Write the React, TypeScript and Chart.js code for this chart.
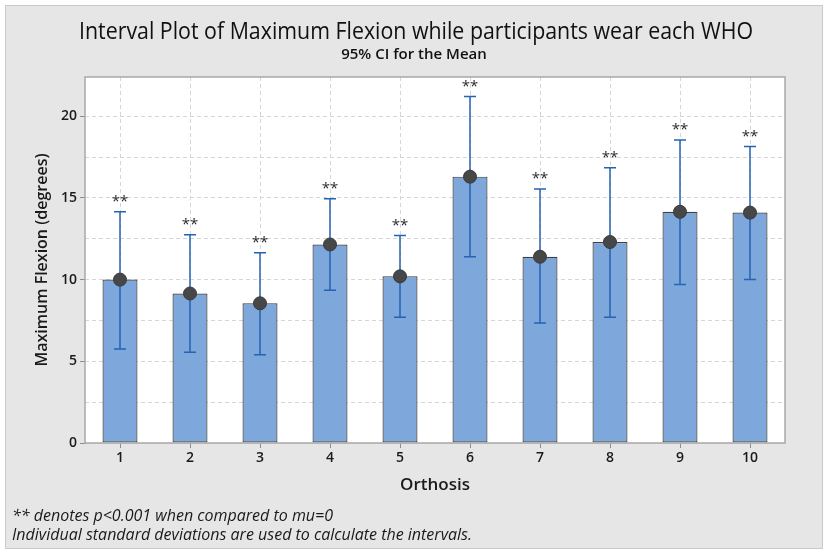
import React, { useEffect, useRef } from 'react';
import { Chart, registerables } from 'chart.js';

Chart.register(...registerables);

// values
const orthoses = ['1', '2', '3', '4', '5', '6', '7', '8', '9', '10'];
const meanFlexion = [10.0, 9.15, 8.55, 12.15, 10.2, 16.3, 11.4, 12.3, 14.15, 14.1];
const ciLower = [5.75, 5.55, 5.4, 9.35, 7.7, 11.4, 7.35, 7.7, 9.7, 10.0];
const ciUpper = [14.15, 12.75, 11.65, 14.95, 12.7, 21.2, 15.55, 16.85, 18.55, 18.15];
const significance = ['**', '**', '**', '**', '**', '**', '**', '**', '**', '**'];
const yTickLabels = [0, 5, 10, 15, 20];
const footnotes = [
   '** denotes p<0.001 when compared to mu=0',
   'Individual standard deviations are used to calculate the intervals.',
];

const FONT = '"Open Sans", "Noto Sans", sans-serif';

const panelPlugin = {
   id: 'panel',
   beforeDraw(chart: any) {
      const { ctx, width, height, chartArea } = chart;
      ctx.save();
      ctx.fillStyle = '#ffffff';
      ctx.fillRect(0, 0, width, height);
      ctx.fillStyle = '#e6e6e6';
      ctx.fillRect(5, 5, 818, 544);
      ctx.strokeStyle = '#cacaca';
      ctx.lineWidth = 1;
      ctx.strokeRect(5.5, 5.5, 817, 543);
      ctx.fillStyle = '#ffffff';
      ctx.fillRect(chartArea.left, chartArea.top, chartArea.right - chartArea.left, chartArea.bottom - chartArea.top);
      ctx.restore();
   },
   afterDraw(chart: any) {
      const { ctx, chartArea } = chart;
      ctx.save();
      // plot frame
      ctx.strokeStyle = '#a8a8a8';
      ctx.lineWidth = 1.5;
      ctx.strokeRect(chartArea.left, chartArea.top, chartArea.right - chartArea.left, chartArea.bottom - chartArea.top);

      ctx.fillStyle = '#111111';
      ctx.textAlign = 'center';
      ctx.textBaseline = 'middle';
      ctx.font = `400 23px ${FONT}`;
      ctx.fillText('Interval Plot of Maximum Flexion while participants wear each WHO', 416, 32, 674);
      ctx.font = `600 15px ${FONT}`;
      ctx.fillText('95% CI for the Mean', 414, 55, 184);

      ctx.fillStyle = '#1a1a1a';
      ctx.textAlign = 'left';
      ctx.font = `italic 400 16px ${FONT}`;
      ctx.fillText(footnotes[0], 12, 516, 330);
      ctx.fillText(footnotes[1], 12, 535, 460);
      ctx.restore();
   },
};

const errorBarPlugin = {
   id: 'errorBars',
   afterDatasetDraw(chart: any, args: any) {
      if (args.meta.type !== 'bar') return;
      const { ctx } = chart;
      const xScale = chart.scales.x;
      const yScale = chart.scales.y;
      ctx.save();
      ctx.strokeStyle = '#2563b3';
      ctx.lineWidth = 1.5;
      orthoses.forEach((_, i) => {
         const px = xScale.getPixelForValue(i);
         const lo = yScale.getPixelForValue(ciLower[i]);
         const hi = yScale.getPixelForValue(ciUpper[i]);
         ctx.beginPath();
         ctx.moveTo(px, lo);
         ctx.lineTo(px, hi);
         ctx.moveTo(px - 6, lo);
         ctx.lineTo(px + 6, lo);
         ctx.moveTo(px - 6, hi);
         ctx.lineTo(px + 6, hi);
         ctx.stroke();
      });
      ctx.fillStyle = '#2b2b2b';
      ctx.textAlign = 'center';
      ctx.textBaseline = 'middle';
      ctx.font = `400 15px ${FONT}`;
      orthoses.forEach((_, i) => {
         const px = xScale.getPixelForValue(i);
         const hi = yScale.getPixelForValue(ciUpper[i]);
         ctx.fillText(significance[i], px, hi - 10);
      });
      ctx.restore();
   },
};

const IntervalPlot = () => {
   const canvasRef = useRef<HTMLCanvasElement | null>(null);

   useEffect(() => {
      document.body.style.margin = '0';
      if (!canvasRef.current) return;

      const chart = new Chart(canvasRef.current, {
         type: 'bar',
         data: {
            labels: orthoses,
            datasets: [
               {
                  type: 'line',
                  data: meanFlexion,
                  showLine: false,
                  pointRadius: 6.5,
                  pointBackgroundColor: '#474747',
                  pointBorderColor: '#3a3a3a',
                  pointBorderWidth: 1,
                  order: 0,
               } as any,
               {
                  type: 'bar',
                  data: meanFlexion,
                  backgroundColor: '#7ea7db',
                  borderColor: '#3f3f3f',
                  borderWidth: 1.2,
                  borderSkipped: false,
                  barPercentage: 0.5,
                  categoryPercentage: 1,
                  order: 1,
               },
            ],
         },
         options: {
            responsive: false,
            animation: false,
            events: [],
            layout: { padding: { left: 5, right: 44, top: 77, bottom: 0 } },
            plugins: {
               legend: { display: false },
               tooltip: { enabled: false },
            },
            scales: {
               x: {
                  type: 'category',
                  offset: true,
                  grid: {
                     offset: false,
                     color: '#d6d6d6',
                     tickLength: 5,
                     tickColor: '#8c8c8c',
                     tickBorderDash: [],
                  },
                  border: { display: false, dash: [4, 3] },
                  ticks: {
                     color: '#1a1a1a',
                     padding: 2,
                     font: { family: FONT, size: 14, weight: 600 },
                  },
                  title: {
                     display: true,
                     text: 'Orthosis',
                     color: '#1a1a1a',
                     font: { family: FONT, size: 17, weight: 600 },
                     padding: { top: 0, bottom: 61 },
                  },
                  afterFit: (scale: any) => {
                     scale.height = 113;
                  },
               },
               y: {
                  min: 0,
                  max: 22.4,
                  grid: {
                     color: '#d6d6d6',
                     tickLength: 5,
                     tickBorderDash: [],
                     tickColor: (ctx: any) =>
                        ctx.tick && yTickLabels.includes(ctx.tick.value) ? '#8c8c8c' : 'rgba(0,0,0,0)',
                  },
                  border: { display: false, dash: [4, 3] },
                  ticks: {
                     stepSize: 2.5,
                     includeBounds: false,
                     autoSkip: false,
                     color: '#1a1a1a',
                     padding: 3,
                     font: { family: FONT, size: 14, weight: 600 },
                     callback: (value: any) => (yTickLabels.includes(Number(value)) ? String(value) : ''),
                  },
                  title: {
                     display: true,
                     text: 'Maximum Flexion (degrees)',
                     color: '#1a1a1a',
                     font: { family: FONT, size: 16, weight: 600 },
                     padding: { top: 28, bottom: 0 },
                  },
                  afterFit: (scale: any) => {
                     scale.width = 80;
                  },
               },
            },
         },
         plugins: [panelPlugin, errorBarPlugin],
      });

      return () => {
         chart.destroy();
      };
   }, []);

   return <canvas ref={canvasRef} width={829} height={556} style={{ display: 'block' }} />;
};

export default function App() {
   return <IntervalPlot />;
}
